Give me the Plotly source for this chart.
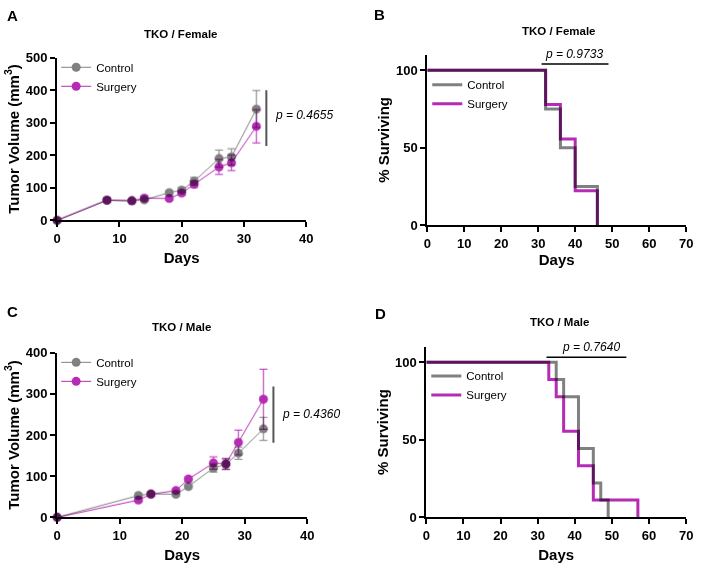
import plotly.graph_objects as go

# ---------------- data ----------------
# Panel A: TKO / Female tumor volume
days_A = [0, 8, 12, 14, 18, 20, 22, 26, 28, 32]
ctrl_A = [0, 62, 60, 63, 85, 93, 120, 190, 195, 342]
ctrl_A_err = [0, 4, 4, 4, 5, 7, 12, 26, 25, 57]
surg_A = [0, 62, 60, 68, 67, 84, 111, 164, 177, 289]
surg_A_err = [0, 4, 4, 5, 5, 6, 10, 23, 24, 51]

# Panel B: TKO / Female survival
t_B_ctrl = [0, 32, 36, 40, 46]
s_B_ctrl = [100, 75, 50, 25, 0]
t_B_surg = [0, 32, 36, 40, 46]
s_B_surg = [100, 77.8, 55.6, 22.2, 0]

# Panel C: TKO / Male tumor volume
days_C = [0, 13, 15, 19, 21, 25, 27, 29, 33]
ctrl_C = [0, 53, 57, 56, 75, 120, 129, 156, 215]
ctrl_C_err = [0, 4, 4, 4, 4, 10, 13, 15, 28]
surg_C = [0, 42, 56, 65, 93, 132, 130, 182, 287]
surg_C_err = [0, 4, 4, 4, 5, 15, 13, 30, 73]

# Panel D: TKO / Male survival
t_D_ctrl = [0, 35, 37, 41, 45, 47, 49]
s_D_ctrl = [100, 88.9, 77.8, 44.4, 22.2, 11.1, 0]
t_D_surg = [0, 33, 35, 37, 41, 45, 57]
s_D_surg = [100, 88.9, 77.8, 55.6, 33.3, 11.1, 0]

series_names = ["Control", "Surgery"]
p_texts = ["p = 0.4655", "p = 0.9733", "p = 0.4360", "p = 0.7640"]
panel_titles = ["TKO / Female", "TKO / Female", "TKO / Male", "TKO / Male"]
panel_letters = ["A", "B", "C", "D"]

# ---------------- style ----------------
GRAY = "#808080"
MAG = "#B52BB5"
FONT = "Arial, Liberation Sans, sans-serif"
W, H = 702, 573


def dom_x(a, b):
    return [a / W, b / W]


def dom_y(top, bottom):
    return [1 - bottom / H, 1 - top / H]


fig = go.Figure()

# Tumor volume panels
for (days, c, ce, s, se, xa, ya, leg) in [
    (days_A, ctrl_A, ctrl_A_err, surg_A, surg_A_err, "x", "y", "legend"),
    (days_C, ctrl_C, ctrl_C_err, surg_C, surg_C_err, "x3", "y3", "legend3"),
]:
    for name, vals, errs, col in [(series_names[0], c, ce, GRAY),
                                  (series_names[1], s, se, MAG)]:
        fig.add_trace(go.Scatter(
            x=days, y=vals, name=name, mode="lines+markers",
            line=dict(color=col, width=1),
            marker=dict(color=col, size=9),
            error_y=dict(type="data", array=errs, color=col, thickness=1, width=4),
            xaxis=xa, yaxis=ya, legend=leg, cliponaxis=False,
        ))

# Survival panels
for (tc, sc, ts, ss, xa, ya, leg) in [
    (t_B_ctrl, s_B_ctrl, t_B_surg, s_B_surg, "x2", "y2", "legend2"),
    (t_D_ctrl, s_D_ctrl, t_D_surg, s_D_surg, "x4", "y4", "legend4"),
]:
    for name, t, sv, col in [(series_names[0], tc, sc, GRAY),
                             (series_names[1], ts, ss, MAG)]:
        fig.add_trace(go.Scatter(
            x=t, y=sv, name=name, mode="lines",
            line=dict(color=col, width=3, shape="hv"),
            xaxis=xa, yaxis=ya, legend=leg, cliponaxis=False,
        ))

title_font = dict(family=FONT, size=15, color="black", weight="bold")
axis_common = dict(
    showline=True, linewidth=2, linecolor="black", ticks="outside",
    ticklen=5, tickwidth=2, tickcolor="black", showgrid=False, zeroline=False,
    tickfont=dict(family=FONT, size=13, color="black", weight="bold"),
)

fig.update_layout(
    width=W, height=H, margin=dict(l=0, r=0, t=0, b=0),
    paper_bgcolor="white", plot_bgcolor="white",
    font=dict(family=FONT, color="black"),
    xaxis=dict(domain=dom_x(54, 307), range=[0, 40], dtick=10, anchor="y",
               title=dict(text="Days", standoff=8, font=title_font), **axis_common),
    yaxis=dict(domain=dom_y(52, 219), range=[0, 500], dtick=100, anchor="x",
               title=dict(text="Tumor Volume (mm<sup>3</sup>)", standoff=3, font=title_font),
               **axis_common),
    xaxis2=dict(domain=dom_x(430, 693), range=[0, 70], dtick=10, anchor="y2",
                title=dict(text="Days", standoff=1, font=title_font), **axis_common),
    yaxis2=dict(domain=dom_y(49, 224), range=[0, 110], tickvals=[0, 50, 100], anchor="x2",
                title=dict(text="% Surviving", standoff=3, font=title_font), **axis_common),
    xaxis3=dict(domain=dom_x(54, 308), range=[0, 40], dtick=10, anchor="y3",
                title=dict(text="Days", standoff=8, font=title_font), **axis_common),
    yaxis3=dict(domain=dom_y(355, 524), range=[0, 400], dtick=100, anchor="x3",
                title=dict(text="Tumor Volume (mm<sup>3</sup>)", standoff=3, font=title_font),
                **axis_common),
    xaxis4=dict(domain=dom_x(429, 693), range=[0, 70], dtick=10, anchor="y4",
                title=dict(text="Days", standoff=8, font=title_font), **axis_common),
    yaxis4=dict(domain=dom_y(349, 524), range=[0, 110], tickvals=[0, 50, 100], anchor="x4",
                title=dict(text="% Surviving", standoff=3, font=title_font), **axis_common),
    showlegend=True,
)

leg_common = dict(bgcolor="rgba(0,0,0,0)", font=dict(family=FONT, size=11.5, color="black"),
                  xanchor="left", yanchor="top", tracegroupgap=0, itemclick=False,
                  borderwidth=0)
fig.update_layout(
    legend=dict(x=53 / W, y=1 - 47 / H, **leg_common),
    legend2=dict(x=430 / W, y=1 - 65 / H, **leg_common),
    legend3=dict(x=53 / W, y=1 - 350 / H, **leg_common),
    legend4=dict(x=429 / W, y=1 - 364 / H, **leg_common),
)

# p-value markers
p_font = dict(family=FONT, size=12, color="black")
fig.add_shape(type="line", xref="x", yref="y", x0=33.6, x1=33.6, y0=228, y1=400,
              line=dict(color="#555555", width=2))
fig.add_annotation(xref="x", yref="y", x=34.6, y=323, text="<i>" + p_texts[0] + "</i>",
                   showarrow=False, xanchor="left", font=p_font)
fig.add_shape(type="line", xref="x2", yref="y2", x0=30.9, x1=49, y0=104, y1=104,
              line=dict(color="black", width=1.5))
fig.add_annotation(xref="x2", yref="y2", x=39.7, y=104, yshift=1, yanchor="bottom",
                   text="<i>" + p_texts[1] + "</i>", showarrow=False, font=p_font)
fig.add_shape(type="line", xref="x3", yref="y3", x0=34.6, x1=34.6, y0=181, y1=318,
              line=dict(color="#555555", width=2))
fig.add_annotation(xref="x3", yref="y3", x=35.7, y=252, text="<i>" + p_texts[2] + "</i>",
                   showarrow=False, xanchor="left", font=p_font)
fig.add_shape(type="line", xref="x4", yref="y4", x0=32.4, x1=53.9, y0=103.3, y1=103.3,
              line=dict(color="black", width=1.5))
fig.add_annotation(xref="x4", yref="y4", x=44.4, y=103.3, yshift=1, yanchor="bottom",
                   text="<i>" + p_texts[3] + "</i>", showarrow=False, font=p_font)

# panel titles
for txt, cx, cy in zip(panel_titles, [180, 564, 180, 564], [28, 25, 329, 323]):
    fig.add_annotation(xref="paper", yref="paper", x=cx / W, y=1 - cy / H, text="<b>" + txt + "</b>",
                       showarrow=False, xanchor="center", yanchor="middle",
                       font=dict(family=FONT, size=11.5, color="black"))

# panel letters
for txt, lx, ly in zip(panel_letters, [1, 374, 1, 375], [9, 8, 313, 315]):
    fig.add_annotation(xref="paper", yref="paper", x=lx / W, y=1 - ly / H, text="<b>" + txt + "</b>",
                       showarrow=False, xanchor="left", yanchor="middle",
                       font=dict(family=FONT, size=15, color="black"))

post = """
document.querySelectorAll('.scatterlayer .trace').forEach(function(t){t.style.mixBlendMode='multiply';});
"""
fig.write_html("out.html", post_script=post)
